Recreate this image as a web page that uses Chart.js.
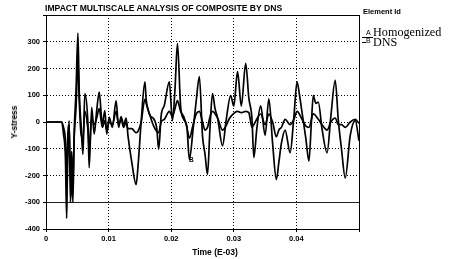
<!DOCTYPE html>
<html><head><meta charset="utf-8">
<script src="https://cdn.jsdelivr.net/npm/chart.js@4/dist/chart.umd.min.js"></script>
<style>
html,body{margin:0;padding:0;background:#fff;}
#wrap{position:relative;width:459px;height:259px;overflow:hidden;}
canvas{position:absolute;left:0;top:0;}
.t{position:absolute;font-family:"Liberation Sans",Arial,sans-serif;font-weight:bold;color:#000;white-space:nowrap;}
.s{position:absolute;font-family:"Liberation Serif","Times New Roman",serif;color:#000;white-space:nowrap;}
</style></head><body>
<div id="wrap">
<canvas id="c" width="459" height="259"></canvas>
<div class="t" id="title" style="left:45px;top:3px;font-size:8.6px;">IMPACT MULTISCALE ANALYSIS OF COMPOSITE BY DNS</div>
<div class="t" style="left:14px;top:122px;font-size:8.5px;transform:translate(-50%,-50%) rotate(-90deg);">Y-stress</div>
<div class="t" style="left:215px;top:252px;font-size:8.5px;transform:translate(-50%,-50%);">Time (E-03)</div>
<div class="t" style="left:363px;top:7px;font-size:7.5px;">Element Id</div>
<div class="t" style="left:366px;top:29px;font-size:7px;font-weight:normal;">A</div>
<div style="position:absolute;left:362px;top:37px;width:11px;height:1px;background:#000;"></div>
<div class="s" style="left:373px;top:25px;font-size:12.2px;">Homogenized</div>
<div class="t" style="left:366px;top:37px;font-size:7px;font-weight:normal;">B</div>
<div style="position:absolute;left:362px;top:42px;width:4px;height:1px;background:#000;"></div>
<div class="s" style="left:373px;top:35px;font-size:12.2px;">DNS</div>
<div class="t" style="left:189px;top:156px;font-size:6.5px;">B</div>
</div>
<script>
const timeDNS = [0,0.0025,0.0028,0.0031,0.0033,0.0034,0.0037,0.0039,0.0041,0.0043,0.0045,0.0048,0.0051,0.0053,0.0056,0.0059,0.0062,0.0067,0.0069,0.0073,0.0077,0.0081,0.0085,0.0090,0.0094,0.0097,0.0101,0.0106,0.0112,0.0116,0.0120,0.0124,0.0128,0.0131,0.0137,0.0144,0.0147,0.0152,0.0158,0.0160,0.0166,0.0172,0.0177,0.0180,0.0184,0.0189,0.0197,0.0202,0.0206,0.0210,0.0215,0.0220,0.0225,0.0229,0.0235,0.0240,0.0245,0.0250,0.0254,0.0258,0.0262,0.0266,0.0270,0.0274,0.0282,0.0288,0.0295,0.0300,0.0306,0.0312,0.0319,0.0324,0.0329,0.0332,0.0337,0.0343,0.0350,0.0356,0.0362,0.0368,0.0372,0.0376,0.0382,0.0390,0.0396,0.0401,0.0405,0.0409,0.0415,0.0420,0.0424,0.0427,0.0431,0.0435,0.0441,0.0449,0.0455,0.0462,0.0467,0.0472,0.0478,0.0486,0.0494,0.0500];
const stressDNS = [0,0,-45,-132,-360,-220,5,-300,-195,-300,-45,118,332,118,-8,-121,106,-8,-171,55,-45,43,112,-8,43,-45,17,-20,80,-20,20,-10,15,-52,-150,-234,-165,0,150,85,25,12,-25,-102,25,62,150,5,120,294,60,10,-15,-140,-27,80,170,-52,-120,-196,-20,106,50,17,-89,10,99,60,188,60,219,90,13,-133,-20,60,-50,87,-80,-215,-150,-80,-30,-115,20,150,100,36,-60,-146,0,99,70,74,-27,-115,20,156,5,-100,-209,-50,5,-70];
const timeHom = [0,0.0025,0.0028,0.0031,0.0033,0.0035,0.0037,0.0039,0.0041,0.0043,0.0045,0.0048,0.0051,0.0053,0.0056,0.0059,0.0062,0.0067,0.0069,0.0073,0.0077,0.0081,0.0085,0.0090,0.0094,0.0097,0.0101,0.0106,0.0112,0.0116,0.0120,0.0124,0.0128,0.0131,0.0137,0.0144,0.0147,0.0152,0.0158,0.0160,0.0166,0.0172,0.0180,0.0184,0.0189,0.0197,0.0202,0.0206,0.0210,0.0215,0.0220,0.0225,0.0229,0.0235,0.0240,0.0245,0.0250,0.0254,0.0258,0.0262,0.0266,0.0274,0.0282,0.0295,0.0306,0.0312,0.0319,0.0324,0.0329,0.0332,0.0343,0.0350,0.0356,0.0362,0.0368,0.0372,0.0376,0.0382,0.0390,0.0396,0.0401,0.0409,0.0415,0.0420,0.0427,0.0435,0.0441,0.0449,0.0455,0.0462,0.0467,0.0472,0.0478,0.0486,0.0494,0.0500];
const stressHom = [0,0,-20,-70,-200,-40,-10,-220,-110,-230,-60,55,230,90,-45,-60,40,-30,-100,15,-10,15,50,-20,5,-30,0,-10,40,-10,10,-20,0,-25,-25,-40,-35,0,85,70,25,-15,-40,0,10,40,20,50,80,40,20,-20,-60,-10,30,40,0,-30,-20,20,40,15,-30,20,40,35,40,35,-20,-10,30,-10,30,0,-55,-30,-20,10,-10,10,40,10,-15,-20,30,10,-10,-30,0,15,-10,-10,-20,0,10,-5];
const xTicks = [0,0.01,0.02,0.03,0.04];
const yTicks = [-400,-300,-200,-100,0,100,200,300];

const toPts = (t, v) => t.map((x, i) => ({x, y: v[i]}));

const framePlugin = {
  id: 'frame',
  beforeDatasetsDraw(chart) {
    const {ctx, chartArea: a, scales: {y}} = chart;
    ctx.save();
    ctx.strokeStyle = '#222';
    ctx.lineWidth = 1.2;
    const py = Math.round(y.getPixelForValue(-300)) + 0.5;
    ctx.beginPath(); ctx.moveTo(a.left, py); ctx.lineTo(a.right, py); ctx.stroke();
    ctx.restore();
  },
  afterDraw(chart) {
    const {ctx, chartArea: a} = chart;
    ctx.save();
    ctx.strokeStyle = '#000';
    ctx.lineWidth = 1;
    ctx.strokeRect(Math.round(a.left) + 0.5, Math.round(a.top) + 0.5, Math.round(a.right - a.left), Math.round(a.bottom - a.top));
    ctx.restore();
  }
};

const tickFont = {family: '"Liberation Sans", Arial, sans-serif', size: 7.5, weight: 'bold'};

new Chart(document.getElementById('c'), {
  type: 'line',
  data: {
    datasets: [
      {label: 'Homogenized', data: toPts(timeHom, stressHom), borderColor: '#000', borderWidth: 1.7, pointRadius: 0, tension: 0.3, cubicInterpolationMode: 'monotone', fill: false},
      {label: 'DNS', data: toPts(timeDNS, stressDNS), borderColor: '#000', borderWidth: 1.7, pointRadius: 0, tension: 0.3, cubicInterpolationMode: 'monotone', fill: false}
    ]
  },
  options: {
    responsive: false,
    animation: false,
    devicePixelRatio: 1,
    layout: {padding: {left: 0, right: 100, top: 15, bottom: 0}},
    plugins: {legend: {display: false}, title: {display: false}, tooltip: {enabled: false}},
    scales: {
      x: {
        type: 'linear', min: 0, max: 0.05,
        afterBuildTicks(s) { s.ticks = xTicks.concat([0.05]).map(v => ({value: v})); },
        afterFit(s) { s.height = 30; },
        ticks: {color: '#000', font: tickFont, padding: 2, maxRotation: 0,
          callback: v => v === 0 ? '0' : (v > 0.045 ? '' : v.toFixed(2))},
        grid: {color: '#000', lineWidth: 1, tickLength: 3, drawTicks: true},
        border: {display: true, color: '#000', dash: [1, 2]}
      },
      y: {
        type: 'linear', min: -400, max: 400,
        afterBuildTicks(s) { s.ticks = yTicks.concat([400]).map(v => ({value: v})); },
        afterFit(s) { s.width = 46; },
        ticks: {color: '#000', font: tickFont, padding: 3,
          callback: v => v === 400 ? '' : String(v)},
        grid: {color: '#000', lineWidth: 1, tickLength: 3},
        border: {display: true, color: '#000', dash: [1, 2]}
      }
    }
  },
  plugins: [framePlugin]
});
</script>
</body></html>
